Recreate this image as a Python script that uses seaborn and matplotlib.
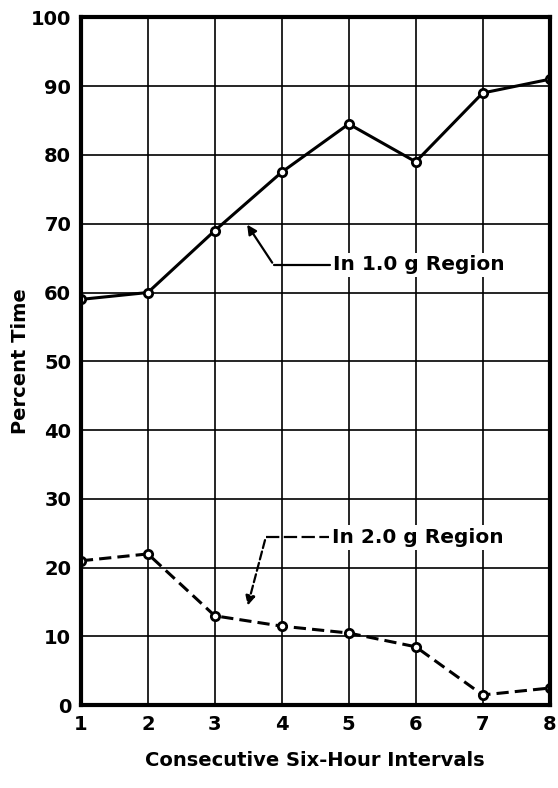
import matplotlib
matplotlib.use("Agg")
import matplotlib.pyplot as plt
import seaborn as sns
import pandas as pd

# data
intervals = [1, 2, 3, 4, 5, 6, 7, 8]
pct_1g = [59, 60, 69, 77.5, 84.5, 79, 89, 91]
pct_2g = [21, 22, 13, 11.5, 10.5, 8.5, 1.5, 2.5]
y_ticks = [0, 10, 20, 30, 40, 50, 60, 70, 80, 90, 100]

sns.set_style("white")
plt.rcParams['font.family'] = ['DejaVu Sans']

fig = plt.figure(figsize=(5.58, 7.88), dpi=100)
ax = fig.add_axes([0.145, 0.105, 0.84, 0.873])

df1 = pd.DataFrame({"x": intervals, "y": pct_1g})
df2 = pd.DataFrame({"x": intervals, "y": pct_2g})

sns.lineplot(data=df1, x="x", y="y", ax=ax, color="black", linewidth=2.2,
             marker="o", markersize=6, markerfacecolor="white",
             markeredgecolor="black", markeredgewidth=2)
sns.lineplot(data=df2, x="x", y="y", ax=ax, color="black", linewidth=2.2,
             linestyle=(0, (4, 2)), marker="o", markersize=6,
             markerfacecolor="white", markeredgecolor="black", markeredgewidth=2)

ax.set_xlim(1, 8)
ax.set_ylim(0, 100)
ax.set_xticks(intervals)
ax.set_yticks(y_ticks)
ax.grid(True, color="black", linewidth=1.2)
ax.set_axisbelow(True)
for s in ax.spines.values():
    s.set_linewidth(3)
    s.set_color("black")
ax.tick_params(axis="both", labelsize=14, length=4, width=1.2, color="black",
               labelcolor="black", pad=3)
for lbl in ax.get_xticklabels() + ax.get_yticklabels():
    lbl.set_fontweight("bold")

ax.set_xlabel("Consecutive Six-Hour Intervals", fontsize=14, fontweight="bold",
              labelpad=12, color="black")
ax.set_ylabel("")
fig.text(0.036, 0.542, "Percent Time", rotation=90, fontsize=14, fontweight="bold",
         color="black", ha="center", va="center")

box = dict(facecolor="white", edgecolor="none", pad=2)

# callouts with elbow lines
ax.plot([3.88, 4.72], [64, 64], color="black", linewidth=1.6)
ax.annotate("", xy=(3.46, 70.2), xytext=(3.88, 64),
            arrowprops=dict(arrowstyle="-|>", color="black", lw=1.6, mutation_scale=14))
ax.text(4.77, 64, "In 1.0 g Region", fontsize=14.5, fontweight="bold", color="black",
        va="center", ha="left", bbox=box)

ax.plot([3.76, 4.7], [24.4, 24.4], color="black", linewidth=1.6, dashes=(6, 2))
ax.annotate("", xy=(3.48, 14.1), xytext=(3.76, 24.4),
            arrowprops=dict(arrowstyle="-|>", color="black", lw=1.6, linestyle="--",
                            mutation_scale=14))
ax.text(4.75, 24.4, "In 2.0 g Region", fontsize=14.5, fontweight="bold", color="black",
        va="center", ha="left", bbox=box)

fig.savefig("out.png", dpi=100)
